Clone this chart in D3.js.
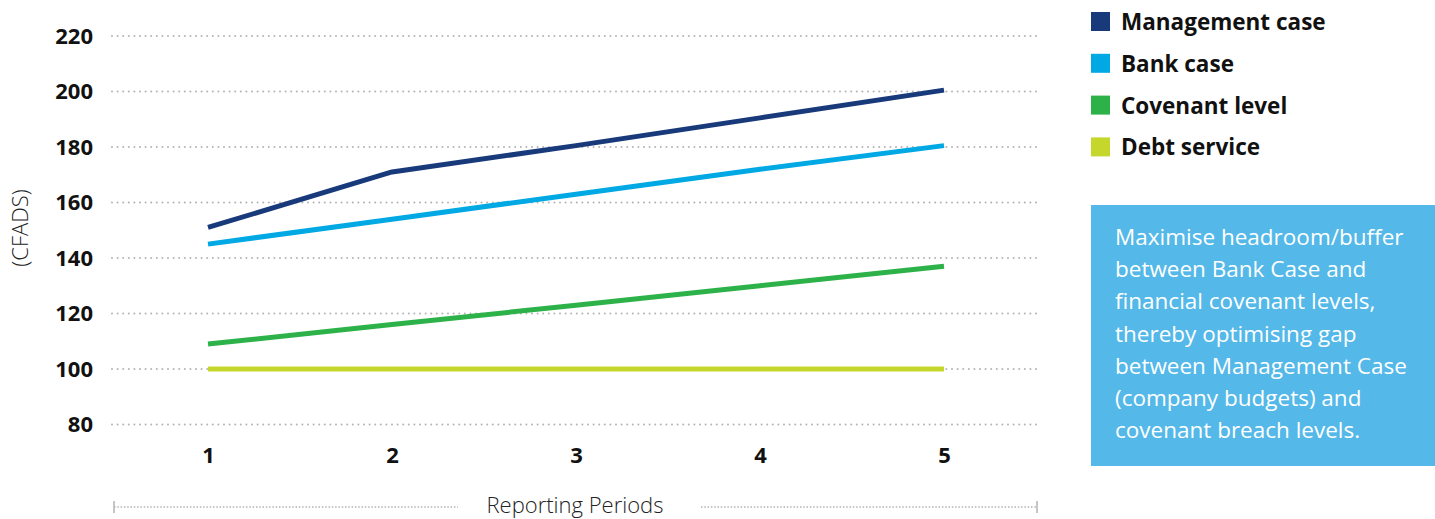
<!DOCTYPE html>
<html>
<head>
<meta charset="utf-8">
<script src="https://cdn.jsdelivr.net/npm/d3@7"></script>
<style>
  html, body { margin: 0; padding: 0; background: #fff; }
  svg { display: block; font-family: "Open Sans", "Noto Sans", sans-serif; }
</style>
</head>
<body>
<svg id="chart" width="1435" height="519"></svg>
<script>
// Reporting periods and the four series (CFADS)
const periods = [1, 2, 3, 4, 5];
const managementCase = [151, 171, 180.5, 190.5, 200.5];
const bankCase = [145, 154, 163, 172, 180.5];
const covenantLevel = [109, 116, 123, 130, 137];
const debtService = [100, 100, 100, 100, 100];
const yTicks = [80, 100, 120, 140, 160, 180, 200, 220];

const seriesNames = ["Management case", "Bank case", "Covenant level", "Debt service"];
const seriesValues = [managementCase, bankCase, covenantLevel, debtService];
const seriesColors = ["#183a7b", "#00a8e4", "#2db24a", "#c6d72c"];

const noteLines = [
  "Maximise headroom/buffer",
  "between Bank Case and",
  "financial covenant levels,",
  "thereby optimising gap",
  "between Management Case",
  "(company budgets) and",
  "covenant breach levels."
];

const svg = d3.select("#chart");

const x = d3.scalePoint().domain(periods).range([208, 944]);
const y = d3.scaleLinear().domain([100, 220]).range([369, 36]);

// dotted horizontal gridlines
const grid = svg.append("g");
grid.selectAll("line").data(yTicks).join("line")
  .attr("x1", 112).attr("x2", 1039)
  .attr("y1", d => y(d)).attr("y2", d => y(d))
  .attr("stroke", "#b3b3b3").attr("stroke-width", 2)
  .attr("stroke-linecap", "round")
  .attr("stroke-dasharray", "0 5.6");

// y axis labels
const yAxis = d3.axisLeft(y).tickValues(yTicks).tickSize(0).tickPadding(0);
svg.append("g").attr("transform", "translate(93,0)").call(yAxis)
  .call(g => g.select(".domain").remove())
  .call(g => g.selectAll("text")
    .attr("font-family", "'Open Sans', sans-serif")
    .attr("font-size", 22).attr("font-weight", 700).attr("fill", "#111"));

// x axis labels
const xAxis = d3.axisBottom(x).tickSize(0).tickPadding(0);
svg.append("g").attr("transform", "translate(0,447)").call(xAxis)
  .call(g => g.select(".domain").remove())
  .call(g => g.selectAll("text")
    .attr("font-family", "'Open Sans', sans-serif")
    .attr("font-size", 22).attr("font-weight", 700).attr("fill", "#111"));

// y axis title
svg.append("text")
  .attr("transform", "translate(28,228) rotate(-90)")
  .attr("text-anchor", "middle")
  .attr("font-size", 22).attr("font-weight", 300).attr("fill", "#222")
  .text("(CFADS)");

// series lines
const line = d3.line().x((d, i) => x(periods[i])).y(d => y(d));
svg.append("g").selectAll("path").data(seriesValues).join("path")
  .attr("d", d => line(d))
  .attr("fill", "none")
  .attr("stroke", (d, i) => seriesColors[i])
  .attr("stroke-width", 5)
  .attr("stroke-linejoin", "round");

// bottom axis title with dotted bracket
const bottom = svg.append("g");
const by = 507;
bottom.append("text")
  .attr("x", 575).attr("y", 513)
  .attr("text-anchor", "middle")
  .attr("font-size", 22).attr("font-weight", 300).attr("fill", "#222")
  .text("Reporting Periods");
[[114, 458], [701, 1037]].forEach(([a, b]) => {
  bottom.append("line")
    .attr("x1", a).attr("x2", b).attr("y1", by).attr("y2", by)
    .attr("stroke", "#b3b3b3").attr("stroke-width", 1.5)
    .attr("stroke-dasharray", "1.5 1.8");
});
[114, 1037].forEach(px => {
  bottom.append("line")
    .attr("x1", px).attr("x2", px).attr("y1", by - 6).attr("y2", by + 6)
    .attr("stroke", "#b3b3b3").attr("stroke-width", 1.5);
});

// legend
const legend = svg.append("g").attr("transform", "translate(1091,12)");
const items = legend.selectAll("g").data(seriesNames).join("g")
  .attr("transform", (d, i) => `translate(0,${i * 41.8})`);
items.append("rect")
  .attr("width", 19).attr("height", 19)
  .attr("fill", (d, i) => seriesColors[i]);
items.append("text")
  .attr("x", 30).attr("y", 18)
  .attr("font-size", 22.5).attr("font-weight", 700).attr("fill", "#111")
  .text(d => d);

// note box
const note = svg.append("g").attr("transform", "translate(1091,205)");
note.append("rect").attr("width", 344).attr("height", 261).attr("fill", "#54b8e8");
note.append("g").selectAll("text").data(noteLines).join("text")
  .attr("x", 24).attr("y", (d, i) => 40 + i * 32.2)
  .attr("font-size", 22.5).attr("font-weight", 400).attr("fill", "#fff")
  .text(d => d);
</script>
</body>
</html>
